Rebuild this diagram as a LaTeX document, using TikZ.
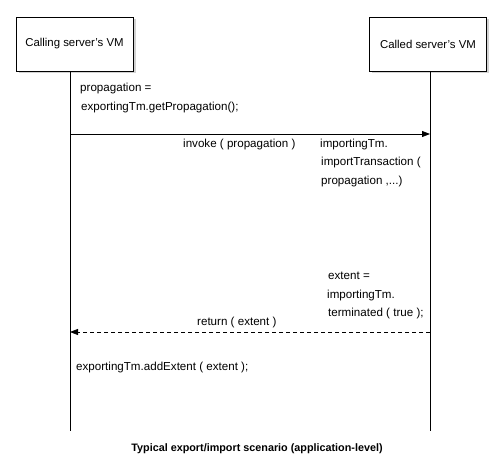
\documentclass[tikz,border=0pt]{standalone}
\usepackage{fontspec}
\setmainfont{Liberation Sans}
\usetikzlibrary{arrows.meta,shadows}
\tikzset{
  vmbox/.style={draw, fill=white, line width=0.8pt, minimum width=117pt, minimum height=54pt,
    font=\fontsize{11.4}{13}\selectfont,
    drop shadow={shadow xshift=2.5pt, shadow yshift=-2.5pt, fill=black!35}},
  lifeline/.style={line width=0.8pt},
  msg/.style={line width=0.8pt, -{Triangle[length=8pt,width=6pt]}},
  reply/.style={msg, dash pattern=on 4pt off 3pt},
  note/.style={anchor=west, inner sep=0pt, font=\fontsize{11.6}{13}\selectfont}
}
\begin{document}
\begin{tikzpicture}[x=1pt,y=-1pt]
			%%%%% START %%%%%
			\useasboundingbox (0,0) rectangle (500,468);
			
			\node[vmbox] (caller) at (74.5,44) {Calling server's VM};
			\node[vmbox] (callee) at (428,44) {Called server's VM};
			
			\coordinate (callerend) at (70,431);
			\coordinate (calleeend) at (430,431);
			\draw[lifeline] (caller.south -| callerend) -- (callerend);
			\draw[lifeline] (callee.south -| calleeend) -- (calleeend);
			
			\node[note] (prop1) at (80,89) {propagation =};
			\node[note] (prop2) at (81,108) {exportingTm.getPropagation();};
			
			\coordinate (invfrom) at (70,134);
			\coordinate (invto) at (430,134);
			\draw[msg] (invfrom) -- (invto);
			\node[note] (invoke) at (183,145) {invoke ( propagation )};
			
			\node[note] (imp1) at (320,145) {importingTm.};
			\node[note] (imp2) at (321,163) {importTransaction (};
			\node[note] (imp3) at (321,182) {propagation ,...)};
			
			\node[note] (ext1) at (328,276) {extent =};
			\node[note] (ext2) at (327,295) {importingTm.};
			\node[note] (ext3) at (328,313) {terminated ( true );};
			
			\coordinate (retfrom) at (430,332);
			\coordinate (retto) at (70,332);
			\draw[reply] (retfrom) -- (retto);
			\node[note] (ret) at (197,322) {return ( extent )};
			
			\node[note] (add) at (76,367) {exportingTm.addExtent ( extent );};
			
			\node[inner sep=0pt, font=\fontsize{10.8}{13}\selectfont\bfseries] (caption) at (257,449) {Typical export/import scenario (application-level)};
			%%%%% END %%%%%
\end{tikzpicture}
\end{document}
